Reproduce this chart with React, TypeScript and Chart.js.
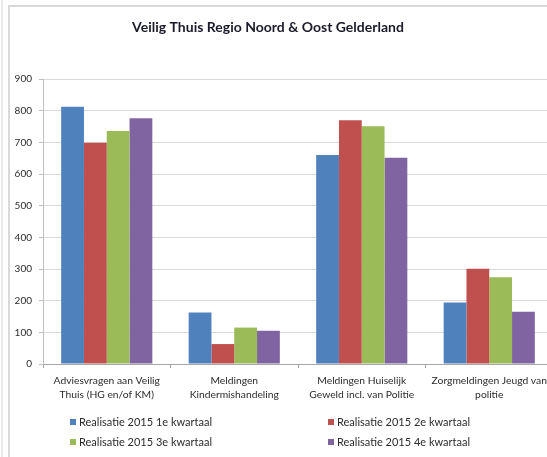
import React, { useEffect, useRef } from "react";
import { Chart, registerables } from "chart.js";

Chart.register(...registerables);

const TITLE = "Veilig Thuis Regio Noord & Oost Gelderland";
const categories: string[][] = [
  ["Adviesvragen aan Veilig", "Thuis (HG en/of KM)"],
  ["Meldingen", "Kindermishandeling"],
  ["Meldingen Huiselijk", "Geweld incl. van Politie"],
  ["Zorgmeldingen Jeugd van", "politie"],
];
const seriesNames = [
  "Realisatie 2015 1e kwartaal",
  "Realisatie 2015 2e kwartaal",
  "Realisatie 2015 3e kwartaal",
  "Realisatie 2015 4e kwartaal",
];
const q1 = [812, 163, 660, 194];
const q2 = [699, 63, 770, 301];
const q3 = [736, 115, 751, 274];
const q4 = [776, 105, 651, 165];
const colors = ["#4F81BD", "#C0504D", "#9BBB59", "#8064A2"];
const yTicks = [0, 100, 200, 300, 400, 500, 600, 700, 800, 900];

const FONT = "Lato, 'Open Sans', sans-serif";
const TEXT = "#2b2b2b";

export default function App() {
  const ref = useRef<HTMLCanvasElement | null>(null);

  useEffect(() => {
    if (!ref.current) return;
    document.documentElement.style.overflow = "hidden";
    document.body.style.overflow = "hidden";
    const values = [q1, q2, q3, q4];

    const framePlugin = {
      id: "frame",
      beforeDraw(chart: any) {
        const ctx = chart.ctx;
        ctx.save();
        ctx.fillStyle = "#ffffff";
        ctx.fillRect(0, 0, chart.width, chart.height);
        ctx.strokeStyle = "#e2e2e2";
        ctx.lineWidth = 1.5;
        ctx.beginPath();
        ctx.moveTo(2, 0);
        ctx.lineTo(2, chart.height);
        ctx.stroke();
        ctx.strokeStyle = "#d9d9d9";
        ctx.lineWidth = 2;
        ctx.beginPath();
        ctx.moveTo(9, chart.height);
        ctx.lineTo(9, 6);
        ctx.lineTo(chart.width, 6);
        ctx.stroke();
        ctx.restore();
      },
    };

    const textPlugin = {
      id: "texts",
      afterDraw(chart: any) {
        const ctx = chart.ctx;
        ctx.save();
        ctx.fillStyle = "#1a1a2a";
        ctx.font = `bold 14px ${FONT}`;
        ctx.textAlign = "center";
        ctx.textBaseline = "middle";
        ctx.fillText(TITLE, 268, 27);

        const colX = [70, 328];
        const rowY = [422, 442];
        ctx.font = `11px ${FONT}`;
        ctx.textAlign = "left";
        chart.data.datasets.forEach((ds: any, i: number) => {
          const x = colX[i % 2];
          const y = rowY[Math.floor(i / 2)];
          ctx.fillStyle = ds.backgroundColor;
          ctx.fillRect(x, y - 3, 6, 6);
          ctx.fillStyle = TEXT;
          ctx.fillText(ds.label, x + 9, y + 0.5);
        });
        ctx.restore();
      },
    };

    const chart = new Chart(ref.current, {
      type: "bar",
      data: {
        labels: categories,
        datasets: seriesNames.map((name, i) => ({
          label: name,
          data: values[i],
          backgroundColor: colors[i],
          borderWidth: 0,
          categoryPercentage: 0.715,
          barPercentage: 1,
        })),
      },
      options: {
        responsive: false,
        animation: false,
        devicePixelRatio: 1,
        layout: { padding: { left: 4, top: 79, right: 47, bottom: 43 } },
        plugins: {
          legend: { display: false },
          title: { display: false },
          tooltip: { enabled: false },
        },
        scales: {
          x: {
            grid: {
              display: true,
              offset: true,
              drawOnChartArea: false,
              tickLength: 4,
              tickColor: "#a6a6a6",
            },
            border: { display: true, color: "#a6a6a6" },
            ticks: {
              autoSkip: false,
              maxRotation: 0,
              minRotation: 0,
              padding: 5,
              color: TEXT,
              font: { family: FONT, size: 10.3, lineHeight: 1.4 },
            },
            afterFit: (s: any) => {
              s.height = 50;
            },
          },
          y: {
            min: 0,
            max: 900,
            afterBuildTicks: (s: any) => {
              s.ticks = yTicks.map((v) => ({ value: v }));
            },
            grid: {
              color: "#d9d9d9",
              tickLength: 4,
              tickColor: "#bfbfbf",
            },
            border: { display: true, color: "#bfbfbf" },
            ticks: {
              padding: 7,
              color: TEXT,
              font: { family: FONT, size: 10 },
            },
            afterFit: (s: any) => {
              s.width = 39;
            },
          },
        },
      },
      plugins: [framePlugin, textPlugin],
    } as any);

    return () => chart.destroy();
  }, []);

  return (
    <div
      style={{
        position: "fixed",
        left: 0,
        top: 0,
        width: 547,
        height: 457,
        overflow: "hidden",
        background: "#fff",
      }}
    >
      <canvas
        ref={ref}
        width={600}
        height={457}
        style={{ display: "block", width: 600, height: 457 }}
      />
    </div>
  );
}
